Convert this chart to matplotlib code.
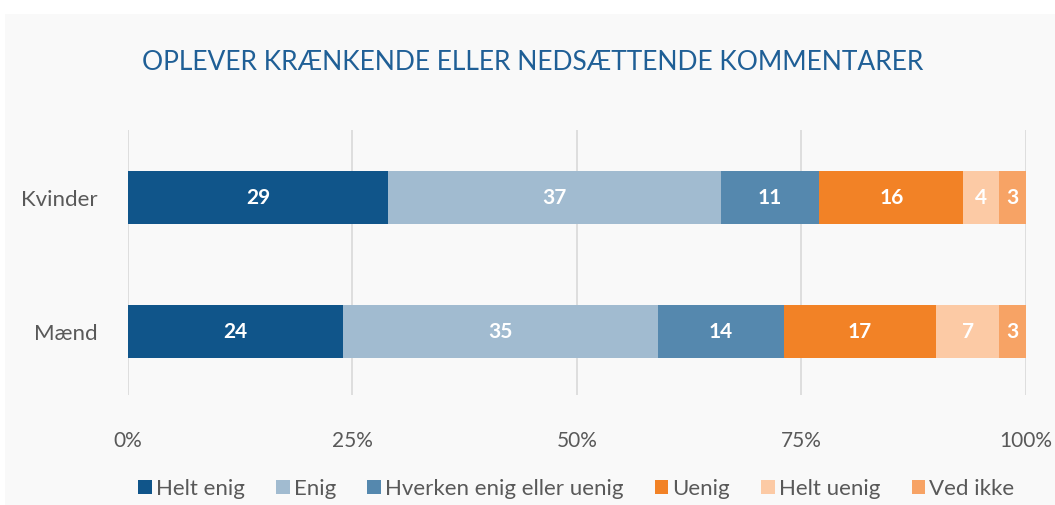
import matplotlib.pyplot as plt
from matplotlib.patches import Rectangle

# data
groups = ['Mænd', 'Kvinder']
answers = ['Helt enig', 'Enig', 'Hverken enig eller uenig', 'Uenig', 'Helt uenig', 'Ved ikke']
kvinder = [29, 37, 11, 16, 4, 3]
maend = [24, 35, 14, 17, 7, 3]
colors = ['#10558a', '#a1bbd0', '#5588ae', '#f28226', '#fccaa5', '#f7a365']

plt.rcParams['font.family'] = ['Lato', 'DejaVu Sans']

fig = plt.figure(figsize=(10.55, 5.05), dpi=100, facecolor='white')
fig.patches.append(Rectangle((5 / 1055, 0), 1, 1 - 14 / 505, transform=fig.transFigure,
                             facecolor='#f9f9f9', edgecolor='none', zorder=-1))
ax = fig.add_axes([0.1213, 0.2178, 0.8512, 0.5248])
ax.set_facecolor('#f9f9f9')

rows = [maend, kvinder]
for i, vals in enumerate(rows):
    left = 0
    for j, v in enumerate(vals):
        ax.barh(i, v, left=left, height=0.396, color=colors[j],
                label=answers[j] if i == 0 else None, zorder=2)
        ax.text(left + v / 2, i, str(v), ha='center', va='center', color='white',
                fontsize=15, fontweight='bold', zorder=3)
        left += v

ax.set_xlim(0, 100)
ax.set_ylim(-0.474, 1.504)
ax.set_xticks([0, 25, 50, 75, 100])
ax.set_xticklabels(['0%', '25%', '50%', '75%', '100%'])
ax.set_yticks([0, 1])
ax.set_yticklabels(groups)
ax.grid(axis='x', color='#d9d9d9', linewidth=1.2, zorder=0)
for s in ax.spines.values():
    s.set_visible(False)
ax.tick_params(axis='both', length=0, labelsize=15, labelcolor='#595959')
ax.tick_params(axis='y', labelsize=16, pad=22)
ax.tick_params(axis='x', pad=26)

fig.text(0.505, 1 - 62 / 505, 'OPLEVER KRÆNKENDE ELLER NEDSÆTTENDE KOMMENTARER',
         ha='center', va='center', fontsize=19, color='#1f5f96')

ax.legend(loc='center', bbox_to_anchor=(0.5464, 1 - 489 / 505), bbox_transform=fig.transFigure,
          ncol=6, frameon=False, fontsize=16, labelcolor='#595959',
          handlelength=0.6, handleheight=0.6, handletextpad=0.2, columnspacing=1.4)

plt.savefig('out.png', dpi=100, facecolor=fig.get_facecolor())
